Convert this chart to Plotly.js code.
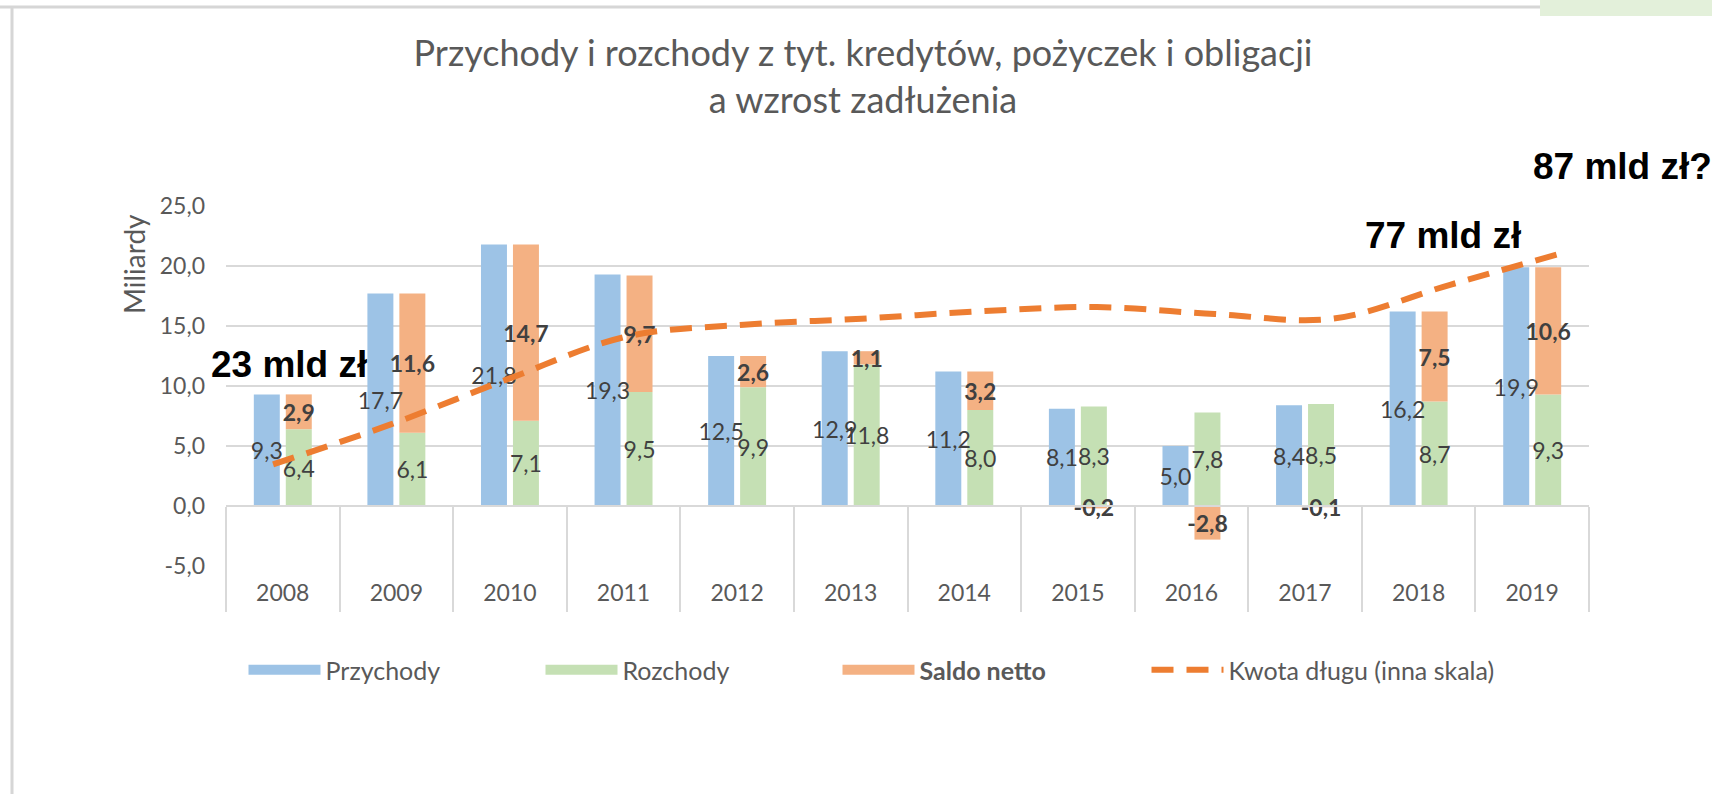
<!DOCTYPE html>
<html>
<head>
<meta charset="utf-8">
<script src="https://cdn.plot.ly/plotly-3.0.1.min.js"></script>
<style>html,body{margin:0;padding:0;background:#fff}#chart{width:1712px;height:794px}</style>
</head>
<body>
<div id="chart"></div>
<script>
// ---- data ----
const years = ['2008','2009','2010','2011','2012','2013','2014','2015','2016','2017','2018','2019'];
const przychody = [9.3, 17.7, 21.8, 19.3, 12.5, 12.9, 11.2, 8.1, 5.0, 8.4, 16.2, 19.9];
const rozchody  = [6.4, 6.1, 7.1, 9.5, 9.9, 11.8, 8.0, 8.3, 7.8, 8.5, 8.7, 9.3];
const saldo     = [2.9, 11.6, 14.7, 9.7, 2.6, 1.1, 3.2, -0.2, -2.8, -0.1, 7.5, 10.6];
const dlug      = [23, 35.0, 48.7, 61.4, 65.0, 66.8, 69.0, 70.3, 68.2, 66.8, 77, 87]; // mld zł (inna skala)
const yTicks    = [-5, 0, 5, 10, 15, 20, 25];
const seriesNames = ['Przychody', 'Rozchody', 'Saldo netto', 'Kwota długu (inna skala)'];
const seriesColors = ['#9DC3E6', '#C5E0B4', '#F4B183', '#ED7D31'];
const calloutTexts = ['23 mld zł', '77 mld zł', '87 mld zł?'];
const titleLines = ['Przychody i rozchody z tyt. kredytów, pożyczek i obligacji', 'a wzrost zadłużenia'];
const yTitle = 'Miliardy';

// ---- helpers ----
const fmt = v => v.toFixed(1).replace('.', ',');
const W = 1712, H = 794;
const M = {l: 226, r: 123, t: 206, b: 228};
const PW = W - M.l - M.r, PH = H - M.t - M.b;
const px = x => (x - M.l) / PW;
const py = y => (H - M.b - y) / PH;
const yRange = [-5, 25];

const FONT = 'Lato, "Open Sans", sans-serif';
const labelFont = {family: FONT, size: 23, color: '#404040'};
const boldLabelFont = Object.assign({}, labelFont, {weight: 'bold'});
const barCommon = {
  type: 'bar', x: years, textposition: 'inside', insidetextanchor: 'middle',
  textangle: 0, constraintext: 'none', cliponaxis: false, hoverinfo: 'skip', showlegend: false
};

const traces = [
  // bars
  Object.assign({}, barCommon, {
    name: seriesNames[0], y: przychody, offsetgroup: 'a', marker: {color: seriesColors[0]}
  }),
  Object.assign({}, barCommon, {
    name: seriesNames[1], y: rozchody, offsetgroup: 'b', marker: {color: seriesColors[1]},
    text: rozchody.map(fmt), insidetextfont: labelFont, textfont: labelFont
  }),
  Object.assign({}, barCommon, {
    name: seriesNames[2], y: saldo,
    base: saldo.map((s, i) => s >= 0 ? rozchody[i] : 0), offsetgroup: 'b',
    marker: {color: seriesColors[2]}, text: saldo.map(fmt),
    insidetextfont: boldLabelFont, textfont: boldLabelFont
  }),
  // labels of Przychody drawn above neighbouring bars (transparent bars, same geometry)
  Object.assign({}, barCommon, {
    name: seriesNames[0] + ' (etykiety)', y: przychody, offsetgroup: 'a',
    marker: {color: 'rgba(0,0,0,0)'}, text: przychody.map(fmt),
    insidetextfont: labelFont, textfont: labelFont
  }),
  // debt line
  {
    type: 'scatter', mode: 'lines', name: seriesNames[3], x: years, y: dlug,
    xaxis: 'x2', yaxis: 'y2', hoverinfo: 'skip', legend: 'legend2',
    line: {color: seriesColors[3], width: 6, dash: '22px,13px', shape: 'spline'}
  },
  // legend swatches (no data drawn)
  {type: 'scatter', mode: 'lines', x: [null], y: [null], name: seriesNames[0], legendrank: 1,
   line: {color: seriesColors[0], width: 14}, hoverinfo: 'skip'},
  {type: 'scatter', mode: 'lines', x: [null], y: [null], name: seriesNames[1], legendrank: 2,
   line: {color: seriesColors[1], width: 14}, hoverinfo: 'skip'},
  {type: 'scatter', mode: 'lines', x: [null], y: [null], name: '<b>' + seriesNames[2] + '</b>', legendrank: 3,
   line: {color: seriesColors[2], width: 14}, hoverinfo: 'skip'}
];

const annFont = {family: '"Liberation Sans", Arial, sans-serif', size: 37, color: '#000000', weight: 'bold'};
const legendCommon = {
  orientation: 'h', xanchor: 'left', y: py(670), yanchor: 'middle', itemwidth: 72,
  font: {family: FONT, size: 25, color: '#595959'}, bgcolor: 'rgba(0,0,0,0)'
};
const layout = {
  width: W, height: H, margin: M,
  paper_bgcolor: '#ffffff', plot_bgcolor: '#ffffff',
  separators: ', ',
  barmode: 'group', bargap: 0.437, bargroupgap: 0.1875,
  hovermode: false,
  font: {family: FONT, color: '#595959'},
  title: {
    text: titleLines.join('<br>'),
    font: {family: FONT, size: 36, color: '#595959'},
    x: 863 / W, xanchor: 'center', xref: 'container',
    y: 1 - 66 / H, yanchor: 'top', yref: 'container'
  },
  xaxis: {
    type: 'category', categoryorder: 'array', categoryarray: years,
    range: [-0.5, years.length - 0.5],
    anchor: 'free', position: (0 - yRange[0]) / (yRange[1] - yRange[0]),
    showline: true, linecolor: '#d9d9d9', linewidth: 2,
    ticks: 'outside', tickson: 'boundaries', ticklen: 105, tickwidth: 2, tickcolor: '#d9d9d9',
    ticklabelstandoff: 66,
    tickfont: {family: FONT, size: 23, color: '#595959'},
    showgrid: false, zeroline: false, fixedrange: true
  },
  yaxis: {
    range: yRange, tickvals: yTicks, ticktext: yTicks.map(fmt),
    showgrid: true, gridcolor: '#d9d9d9', gridwidth: 2,
    zeroline: false, showline: false, ticks: '', ticklabelstandoff: 20,
    tickfont: {family: FONT, size: 23, color: '#595959'}, fixedrange: true
  },
  xaxis2: {
    type: 'category', categoryorder: 'array', categoryarray: years,
    overlaying: 'x', visible: false, range: [-0.4, 11.18], fixedrange: true
  },
  yaxis2: {overlaying: 'y', visible: false, range: [-7.6, 100.7], fixedrange: true},
  legend: Object.assign({}, legendCommon, {
    x: px(243.5), entrywidth: 210, entrywidthmode: 'pixels'
  }),
  legend2: Object.assign({}, legendCommon, {x: px(1146.5)}),
  annotations: [
    {text: '<b>' + calloutTexts[0] + '</b>', xref: 'paper', yref: 'paper', x: px(288.5), y: py(364.5),
     xanchor: 'center', yanchor: 'middle', showarrow: false, font: annFont},
    {text: '<b>' + calloutTexts[1] + '</b>', xref: 'paper', yref: 'paper', x: px(1443), y: py(235),
     xanchor: 'center', yanchor: 'middle', showarrow: false, font: annFont},
    {text: '<b>' + calloutTexts[2] + '</b>', xref: 'paper', yref: 'paper', x: px(1531), y: py(166.7),
     xanchor: 'left', yanchor: 'middle', showarrow: false, font: annFont},
    {text: yTitle, xref: 'paper', yref: 'paper', x: px(134), y: py(264), textangle: -90,
     xanchor: 'center', yanchor: 'middle', showarrow: false,
     font: {family: FONT, size: 28, color: '#595959'}}
  ],
  shapes: [
    {type: 'rect', xref: 'paper', yref: 'paper', x0: px(1540), x1: px(1720), y0: py(16), y1: py(-5),
     fillcolor: '#e3f0da', line: {width: 0}, layer: 'below'},
    {type: 'line', xref: 'paper', yref: 'paper', x0: px(0), x1: px(1540), y0: py(7), y1: py(7),
     line: {color: '#d6d6d6', width: 3}},
    {type: 'line', xref: 'paper', yref: 'paper', x0: px(12), x1: px(12), y0: py(7), y1: py(800),
     line: {color: '#d6d6d6', width: 3}}
  ]
};

Plotly.newPlot('chart', traces, layout, {displayModeBar: false, staticPlot: true});
</script>
</body>
</html>
